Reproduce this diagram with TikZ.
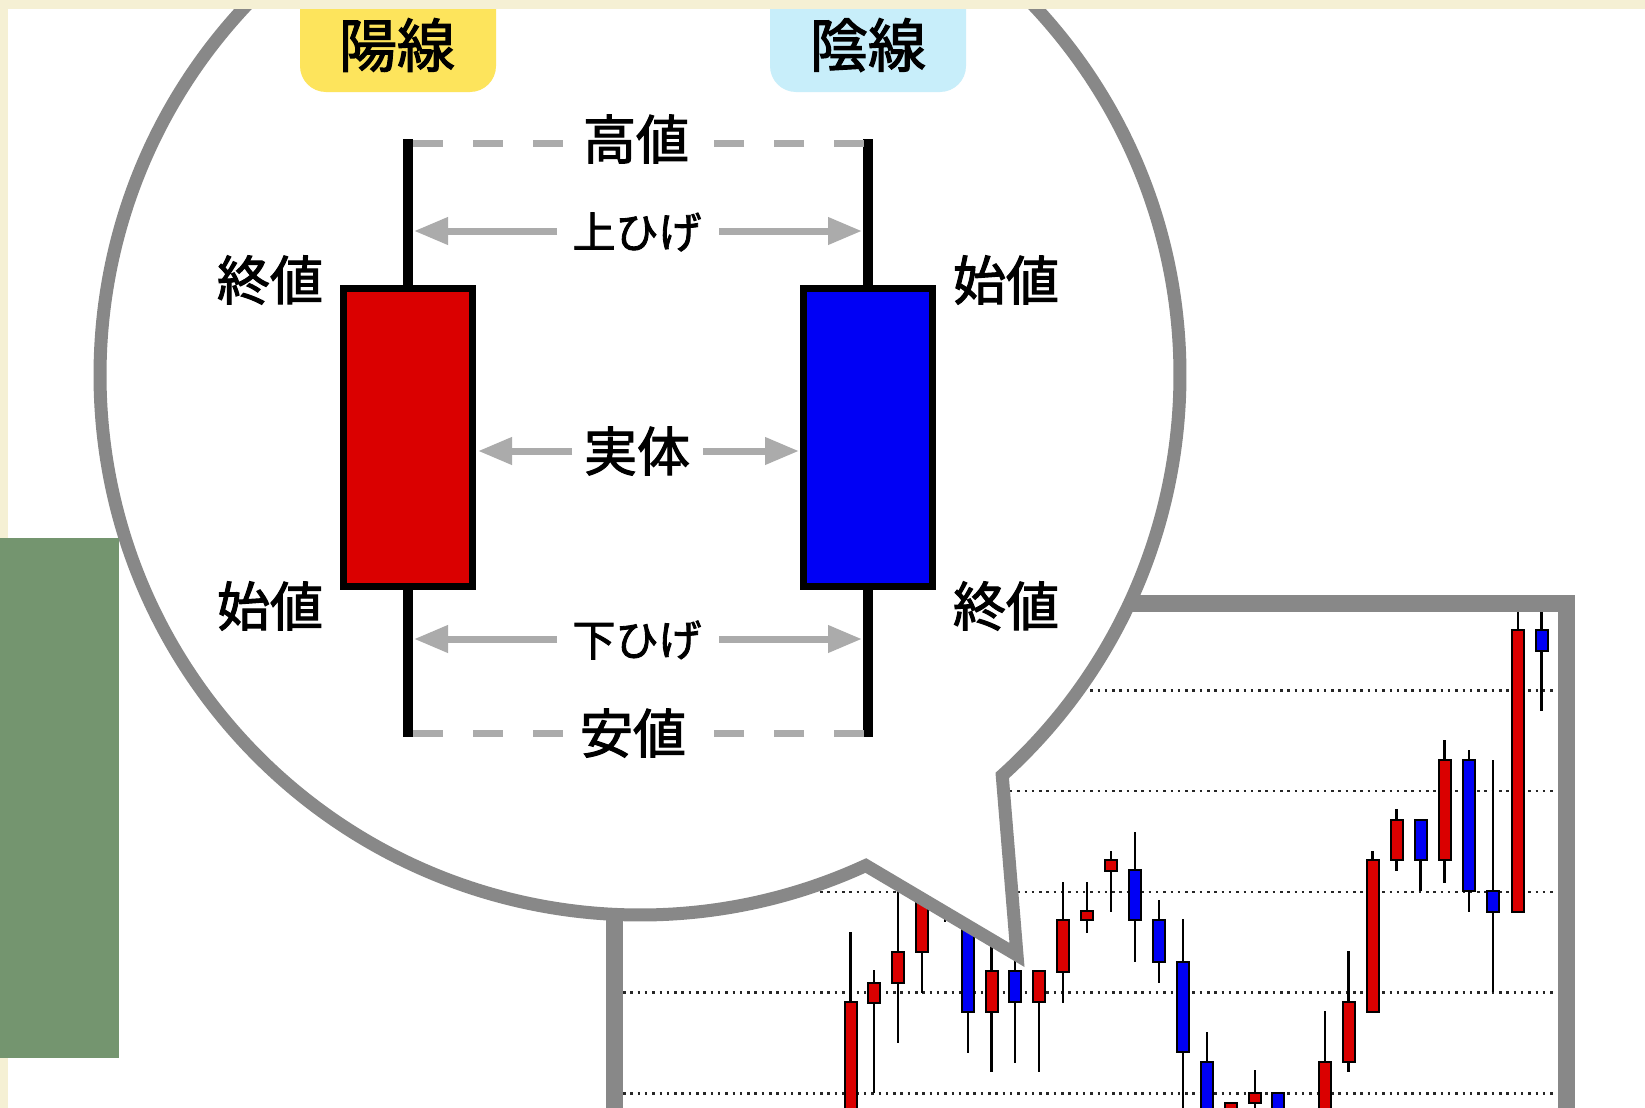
\documentclass[tikz,border=0pt]{standalone}
\usepackage{fontspec}
\newfontfamily\jp{Noto Sans CJK JP}[RawFeature={embolden=2}]
\usetikzlibrary{arrows.meta}
\definecolor{cream}{RGB}{245,240,212}
\definecolor{sage}{RGB}{116,149,111}
\definecolor{bubgray}{RGB}{136,136,136}
\definecolor{ltgray}{RGB}{171,171,171}
\definecolor{yangY}{RGB}{253,228,92}
\definecolor{yinB}{RGB}{200,238,250}
\definecolor{cred}{RGB}{218,0,0}
\definecolor{cblue}{RGB}{0,0,245}
\newcommand\cndl[6]{%
  \draw[line width=1.25pt] (#1,#2) -- (#1,#5);
  \filldraw[fill=#6, draw=black, line width=1pt] (#1-6,#3) rectangle (#1+6,#4);
}
\begin{document}
\begin{tikzpicture}[x=0.5pt,y=-0.5pt,
  lbl/.style={font=\jp\fontsize{26.5pt}{30pt}\selectfont, inner sep=0pt},
  hige/.style={font=\jp\fontsize{21.5pt}{24pt}\selectfont, inner sep=0pt},
  ttl/.style={font=\jp\fontsize{29pt}{32pt}\selectfont, inner sep=0pt},
  arr/.style={draw=ltgray, line width=3.5pt, -{Triangle[length=17pt,width=13pt]}},
  hdash/.style={draw=ltgray, line width=3.5pt, dash pattern=on 15pt off 15pt},
  wick/.style={draw=black, line width=4.75pt},
  bigbody/.style={draw=black, line width=3.5pt, minimum width=64.5pt, minimum height=148.75pt, inner sep=0pt, outer sep=0pt},
  gridln/.style={draw=black!85, line width=1.25pt, dash pattern=on 1.25pt off 2.4pt},
  chartframe/.style={draw=bubgray, line width=8.5pt},
  bubble/.style={fill=white, draw=bubgray, line width=6.5pt, line join=miter},
  tagbox/.style={rounded corners=13pt}
]
\useasboundingbox (0,0) rectangle (1645,1108);
\clip (0,0) rectangle (1645,1108);
\fill[white] (0,0) rectangle (1645,1108);

% ---------- chart ----------
\begin{scope}
\clip (623,612) rectangle (1557,1120);
\foreach \yy in {690.5,791.2,891.9,992.6,1093.3} \draw[gridln] (623,\yy) -- (1557,\yy);
\cndl{850.5}{932}{1002}{1120}{1120}{cred}
\cndl{874}{970}{983}{1003}{1093}{cred}
\cndl{898}{880}{952}{983}{1043}{cred}
\cndl{922}{870}{890}{952}{993}{cred}
\cndl{945}{870}{885}{905}{922}{cred}
\cndl{968}{895}{915}{1012}{1053}{cblue}
\cndl{991.5}{935}{971}{1012}{1072}{cred}
\cndl{1015}{955}{971}{1002}{1063}{cblue}
\cndl{1039}{971}{971}{1002}{1072}{cred}
\cndl{1063}{882}{920}{972}{1003}{cred}
\cndl{1087}{882}{911}{920}{933}{cred}
\cndl{1111}{851}{860}{871}{912}{cred}
\cndl{1135}{832}{870}{920}{962}{cblue}
\cndl{1159}{900}{920}{962}{983}{cblue}
\cndl{1183}{919}{962}{1052}{1120}{cblue}
\cndl{1207}{1032}{1062}{1120}{1120}{cblue}
\cndl{1231}{1103}{1103}{1120}{1120}{cred}
\cndl{1255}{1070}{1093}{1103}{1120}{cred}
\cndl{1278}{1093}{1093}{1120}{1120}{cblue}
\cndl{1325}{1011}{1062}{1120}{1120}{cred}
\cndl{1348.5}{951}{1002}{1062}{1072}{cred}
\cndl{1372.5}{851}{860}{1012}{1012}{cred}
\cndl{1396.5}{809}{820}{860}{871}{cred}
\cndl{1420.5}{820}{820}{860}{891}{cblue}
\cndl{1444.5}{740}{760}{860}{883}{cred}
\cndl{1469}{750}{760}{891}{912}{cblue}
\cndl{1493}{760}{891}{912}{992}{cblue}
\cndl{1518}{600}{630}{912}{912}{cred}
\cndl{1541.5}{600}{630}{651}{711}{cblue}
\end{scope}
\draw[chartframe] (614,603) rectangle (1566,1200);

% ---------- speech bubble ----------
\coordinate (C) at (640,375);
\path (C) ++(47.87:540) coordinate (tailR);
\path (C) ++(65.28:540) coordinate (tailL);
\coordinate (tailTip) at (1017,955);
\filldraw[bubble] (tailR) arc[start angle=47.87, end angle=-294.72, radius=540] -- (tailTip) -- cycle;

% ---------- headers ----------
\fill[yangY, tagbox] (300,-40) rectangle (496,92);
\fill[yinB, tagbox] (770,-40) rectangle (966,92);
\node[ttl] (yang) at (397,45) {陽線};
\node[ttl] (yin) at (868,45) {陰線};

% ---------- big candles ----------
\node[bigbody, fill=cred] (redbody) at (408,437.25) {};
\node[bigbody, fill=cblue] (bluebody) at (868,437.25) {};
\coordinate (redhigh) at (408,139);
\coordinate (redlow) at (408,737);
\coordinate (bluehigh) at (868,139);
\coordinate (bluelow) at (868,737);
\draw[wick] (redbody.north) -- (redhigh);
\draw[wick] (redbody.south) -- (redlow);
\draw[wick] (bluebody.north) -- (bluehigh);
\draw[wick] (bluebody.south) -- (bluelow);

% ---------- labels ----------
\node[lbl] (takane) at (636,139) {高値};
\node[lbl] (yasune) at (633,733) {安値};
\node[lbl] (jittai) at (637,451) {実体};
\node[hige] (uehige) at (637,232) {上ひげ};
\node[hige] (shitahige) at (637,640) {下ひげ};
\node[lbl] (owariL) at (270,280) {終値};
\node[lbl] (hajimeR) at (1006,280) {始値};
\node[lbl] (hajimeL) at (270,606) {始値};
\node[lbl] (owariR) at (1006,606) {終値};

% ---------- dashed high / low lines ----------
\coordinate (hiL1) at (413,143); \coordinate (hiL2) at (566,143);
\coordinate (hiR1) at (864,143); \coordinate (hiR2) at (711,143);
\coordinate (loL1) at (413,733.5); \coordinate (loL2) at (566,733.5);
\coordinate (loR1) at (864,733.5); \coordinate (loR2) at (711,733.5);
\draw[hdash] (hiL1) -- (hiL2);
\draw[hdash] (hiR1) -- (hiR2);
\draw[hdash] (loL1) -- (loL2);
\draw[hdash] (loR1) -- (loR2);

% ---------- arrows ----------
\coordinate (uhA) at (557,231); \coordinate (uhAt) at (414,231);
\coordinate (uhB) at (719,231); \coordinate (uhBt) at (862,231);
\coordinate (jtA) at (572,451); \coordinate (jtAt) at (478,451);
\coordinate (jtB) at (703,451); \coordinate (jtBt) at (799,451);
\coordinate (shA) at (557,639); \coordinate (shAt) at (414,639);
\coordinate (shB) at (719,639); \coordinate (shBt) at (862,639);
\draw[arr] (uhA) -- (uhAt);
\draw[arr] (uhB) -- (uhBt);
\draw[arr] (jtA) -- (jtAt);
\draw[arr] (jtB) -- (jtBt);
\draw[arr] (shA) -- (shAt);
\draw[arr] (shB) -- (shBt);

% ---------- page edges ----------
\fill[cream] (0,0) rectangle (1645,9);
\fill[cream] (0,0) rectangle (8,1108);
\fill[sage] (0,538) rectangle (119,1058);
\end{tikzpicture}
\end{document}
